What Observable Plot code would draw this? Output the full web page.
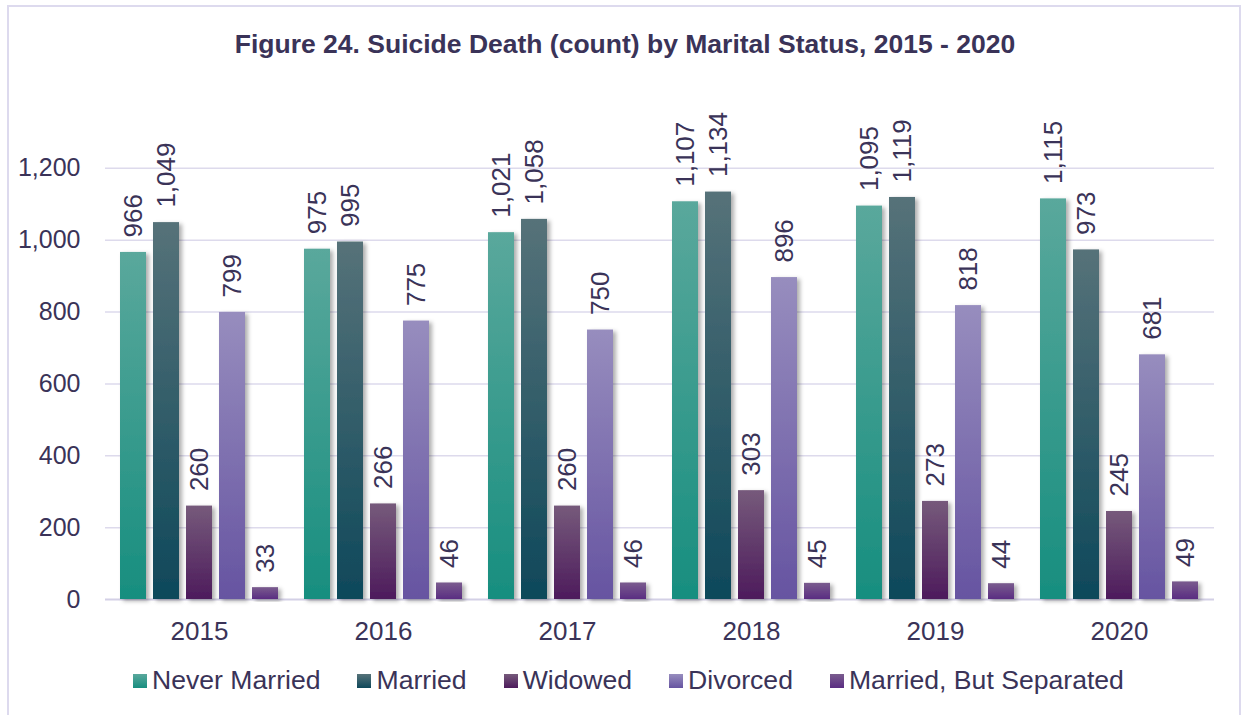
<!DOCTYPE html>
<html>
<head>
<meta charset="utf-8">
<script src="https://cdn.jsdelivr.net/npm/d3@7"></script>
<script src="https://cdn.jsdelivr.net/npm/@observablehq/plot@0.6"></script>
<style>
  body { margin: 0; background: #fff; }
  #wrap { position: relative; width: 1244px; height: 715px; overflow: hidden; background: #fff;
          font-family: "Liberation Sans", Arial, sans-serif; color: #3a3358; }
  #border { position: absolute; left: 7px; top: 5px; width: 1234px; height: 730px; border: 2px solid #dddaee; box-sizing: border-box; }
  #title { position: absolute; left: 0; width: 1250px; top: 29px; text-align: center; font-weight: bold; font-size: 26.5px; color: #3a3358; }
  #chart { position: absolute; left: 0; top: 80px; }
  #legend { position: absolute; left: 133px; top: 665px; display: flex; align-items: center; font-size: 26.6px; white-space: nowrap; }
  .item { display: flex; align-items: center; margin-right: 37px; }
  .sw { width: 14px; height: 14px; margin-right: 5px; }
</style>
</head>
<body>
<div id="wrap">
  <div id="border"></div>
  <div id="title">Figure 24. Suicide Death (count) by Marital Status, 2015 - 2020</div>
  <div id="chart"></div>
  <div id="legend"></div>
</div>
<script>
const years = ["2015", "2016", "2017", "2018", "2019", "2020"];
const series = ["Never Married", "Married", "Widowed", "Divorced", "Married, But Separated"];
const neverMarried = [966, 975, 1021, 1107, 1095, 1115];
const married = [1049, 995, 1058, 1134, 1119, 973];
const widowed = [260, 266, 260, 303, 273, 245];
const divorced = [799, 775, 750, 896, 818, 681];
const separated = [33, 46, 46, 45, 44, 49];
const yTicks = [0, 200, 400, 600, 800, 1000, 1200];
const gradTop = ["#5aa89c", "#567279", "#765a7b", "#978dbe", "#7a5c8e"];
const gradBottom = ["#178e7f", "#0e485a", "#4d1b5c", "#6654a1", "#5a2d82"];

const values = [neverMarried, married, widowed, divorced, separated];
const textColor = "#3a3358";
const fmt = d3.format(",");
const groupW = 159, barGap = 6;
const barStep = (groupW + barGap) / series.length;
const barW = barStep - barGap;

const marks = [
  Plot.ruleY(yTicks.filter(t => t > 0), {stroke: "#dddaec", strokeWidth: 1.5}),
  Plot.ruleY([0], {stroke: "#d3d0e6", strokeWidth: 2})
];
series.forEach((s, i) => {
  const rows = years.map((yr, j) => ({year: yr, value: values[i][j], series: s}));
  marks.push(Plot.barY(rows, {
    x: "year", y: "value", fill: `url(#grad${i})`,
    insetLeft: barStep * i, insetRight: groupW - barStep * i - barW
  }));
});
series.forEach((s, i) => {
  const rows = years.map((yr, j) => ({year: yr, value: values[i][j], series: s}));
  marks.push(Plot.text(rows, {
    x: "year", y: "value", text: d => fmt(d.value), rotate: -90, textAnchor: "start",
    dx: barStep * i + barW / 2 - groupW / 2, dy: -15, fontSize: 26, fill: textColor
  }));
});
marks.push(Plot.axisY({ticks: yTicks, tickFormat: d => fmt(d), tickSize: 0, tickPadding: 25, fontSize: 25, label: null, fill: textColor}));
marks.push(Plot.axisX({tickSize: 0, tickPadding: 22, fontSize: 26, label: null, fill: textColor}));

const svg = Plot.plot({
  width: 1244, height: 580,
  marginLeft: 105, marginRight: 30, marginTop: 16, marginBottom: 61,
  x: {domain: years, paddingInner: 0.1405, paddingOuter: 0.0677},
  y: {domain: [0, 1400]},
  style: {fontFamily: '"Liberation Sans", Arial, sans-serif', color: textColor, background: "transparent", overflow: "visible"},
  marks
});

const sel = d3.select(svg);
const defs = sel.insert("defs", ":first-child");
series.forEach((s, i) => {
  const g = defs.append("linearGradient").attr("id", `grad${i}`).attr("x1", 0).attr("y1", 0).attr("x2", 0).attr("y2", 1);
  g.append("stop").attr("offset", "0%").attr("stop-color", gradTop[i]);
  g.append("stop").attr("offset", "100%").attr("stop-color", gradBottom[i]);
});
const f = defs.append("filter").attr("id", "shadow").attr("x", "-20%").attr("y", "-5%").attr("width", "160%").attr("height", "120%");
f.append("feDropShadow").attr("dx", 3).attr("dy", 2).attr("stdDeviation", 2.2).attr("flood-color", "#000").attr("flood-opacity", 0.32);
sel.selectAll('g[aria-label="bar"]').attr("filter", "url(#shadow)");

document.getElementById("chart").appendChild(svg);

const legend = d3.select("#legend");
series.forEach((s, i) => {
  const it = legend.append("div").attr("class", "item");
  it.append("div").attr("class", "sw").style("background", `linear-gradient(${gradTop[i]}, ${gradBottom[i]})`);
  it.append("span").text(s);
});
</script>
</body>
</html>
